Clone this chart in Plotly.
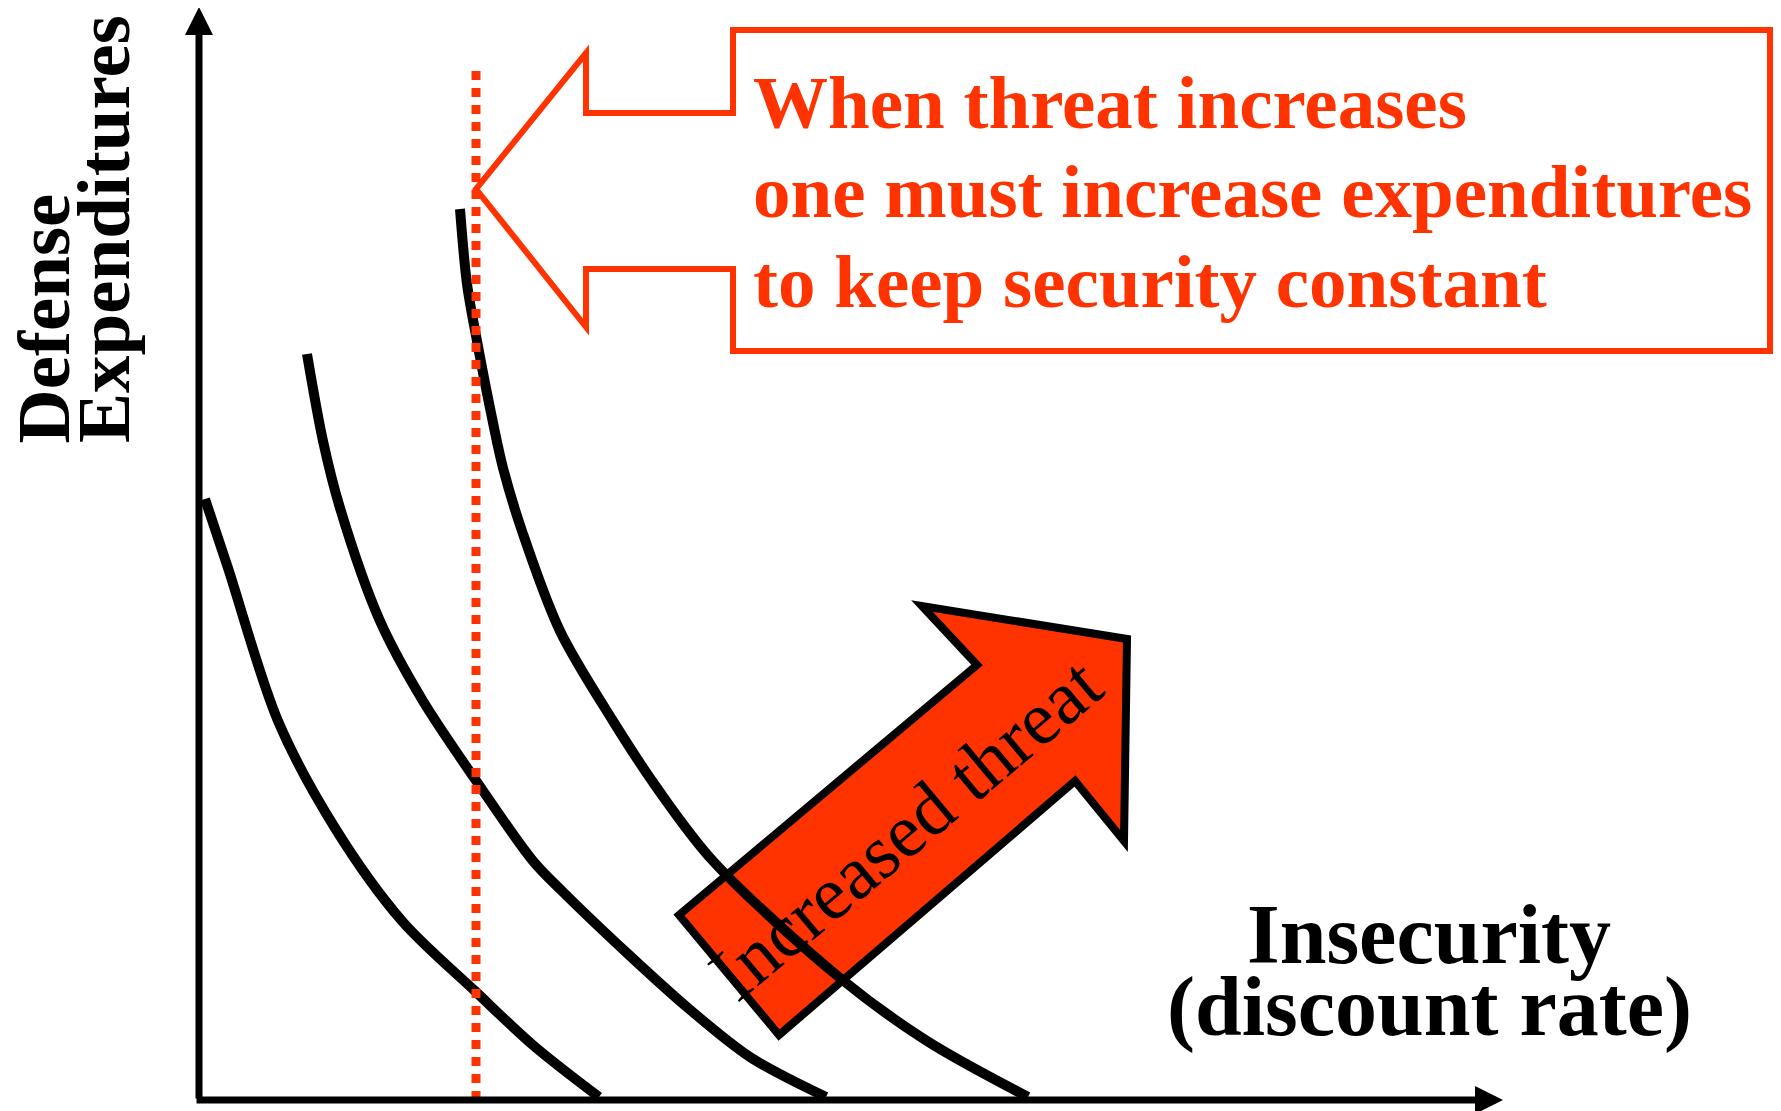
import plotly.graph_objects as go

# indifference curves (insecurity vs defense expenditures)
low_x = [0.06, 0.29, 0.79, 1.36, 2.03, 2.76, 3.35, 4.00]
low_y = [6.01, 5.32, 3.79, 2.72, 1.79, 1.09, 0.54, 0.03]

mid_x = [1.08, 1.24, 1.41, 1.81, 2.24, 2.78, 3.34, 3.63, 4.29, 4.89, 5.51, 6.27]
mid_y = [7.46, 6.59, 5.92, 4.79, 3.99, 3.18, 2.39, 2.09, 1.46, 0.92, 0.43, 0.03]

high_x = [2.61, 2.68, 2.78, 2.91, 3.04, 3.24, 3.61, 4.14, 4.58, 5.14, 6.41, 7.28, 8.29]
high_y = [8.91, 8.16, 7.59, 6.92, 6.32, 5.66, 4.69, 3.79, 3.12, 2.39, 1.22, 0.59, 0.03]

# fixed-security line
ref_x = 2.77
ref_top = 10.29

callout_lines = ["When threat increases",
                 "one must increase expenditures",
                 "to keep security constant"]
y_label = ["Defense", "Expenditures"]
x_label = ["Insecurity", "(discount rate)"]
arrow_text = "Increased threat"

RED = "#FF3300"
SERIF = "Liberation Serif, Times New Roman, serif"

fig = go.Figure()

for xs, ys in [(low_x, low_y), (mid_x, mid_y), (high_x, high_y)]:
    fig.add_trace(go.Scatter(
        x=xs, y=ys, mode="lines",
        line=dict(color="black", width=10, shape="spline", smoothing=0.9),
        hoverinfo="skip", showlegend=False
    ))

# dotted line drawn over the curves
fig.add_shape(
    type="line", x0=ref_x, x1=ref_x, y0=0, y1=ref_top,
    line=dict(color=RED, width=9, dash="9px,8px"), layer="above"
)

# ------------------------- callout box with left-pointing arrow -------------------------
callout = [(5.34, 10.70), (15.71, 10.70), (15.71, 7.49), (5.34, 7.49), (5.34, 8.31),
           (3.87, 8.31), (3.87, 7.73), (2.77, 9.11), (3.87, 10.47), (3.87, 9.87),
           (5.34, 9.87)]
fig.add_shape(
    type="path",
    path="M " + " L ".join(f"{x},{y}" for x, y in callout) + " Z",
    line=dict(color=RED, width=6), fillcolor="white", layer="below"
)

# ------------------------- big "increased threat" arrow -------------------------
big_arrow = [(4.80, 1.85), (7.78, 4.35), (7.23, 4.94), (9.28, 4.61), (9.25, 2.59),
             (8.76, 3.19), (5.80, 0.65)]
fig.add_shape(
    type="path",
    path="M " + " L ".join(f"{x},{y}" for x, y in big_arrow) + " Z",
    line=dict(color="black", width=8), fillcolor=RED, layer="below"
)

# ------------------------- axes with arrowheads -------------------------
fig.add_annotation(x=0, y=10.93, ax=0, ay=0, xref="x", yref="y", axref="x", ayref="y",
                   showarrow=True, arrowhead=2, arrowsize=0.8, arrowwidth=7,
                   arrowcolor="black", text="")
fig.add_annotation(x=13.04, y=0, ax=-0.04, ay=0, xref="x", yref="y", axref="x", ayref="y",
                   showarrow=True, arrowhead=2, arrowsize=0.8, arrowwidth=7,
                   arrowcolor="black", text="")

# ------------------------- texts -------------------------
for txt, yy in zip(callout_lines, [9.975, 9.085, 8.185]):
    fig.add_annotation(x=5.52, y=yy, text=txt, showarrow=False, xanchor="left",
                       yanchor="middle",
                       font=dict(family=SERIF, size=75, color=RED, weight="bold"))

for txt, xx in zip(y_label, [-1.56, -0.955]):
    fig.add_annotation(x=xx, y=6.545, text=txt, showarrow=False, textangle=-90,
                       xanchor="center", yanchor="bottom",
                       font=dict(family=SERIF, size=75, color="black", weight="bold"))

for txt, yy in zip(x_label, [1.66, 0.935]):
    fig.add_annotation(x=12.30, y=yy, text=txt, showarrow=False,
                       xanchor="center", yanchor="middle",
                       font=dict(family=SERIF, size=84, color="black", weight="bold"))

fig.add_annotation(x=7.06, y=2.71, text=arrow_text, showarrow=False, textangle=-40,
                   xanchor="center", yanchor="middle",
                   font=dict(family=SERIF, size=76, color="black"))

fig.update_xaxes(range=[-1.91, 15.90], visible=False)
fig.update_yaxes(range=[-0.19, 10.92], visible=False)
fig.update_layout(
    width=1781, height=1111,
    margin=dict(l=0, r=0, t=0, b=0),
    paper_bgcolor="white", plot_bgcolor="white"
)

fig.write_html("out.html")
